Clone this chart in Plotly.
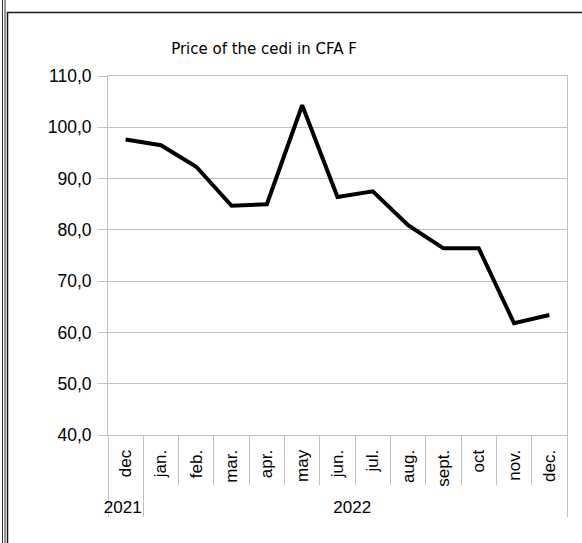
import plotly.graph_objects as go

years = ["2021"] + ["2022"] * 12
months = ["dec", "jan.", "feb.", "mar.", "apr.", "may", "jun.", "jul.",
          "aug.", "sept.", "oct", "nov.", "dec."]
price = [97.6, 96.5, 92.3, 84.7, 85.0, 104.3, 86.4, 87.5, 80.9, 76.4, 76.4, 61.8, 63.4]
y_ticks = [40, 50, 60, 70, 80, 90, 100, 110]

W, H = 582, 543
L, R, T, B = 108, 15, 76, 108
pw, ph = W - L - R, H - T - B

def px_x(p):
    return (p - L) / pw

def px_y(p):
    return (H - B - p) / ph

GRID = "#c0c0c0"

fig = go.Figure()
fig.add_trace(go.Scatter(
    x=[years, months], y=price, mode="lines",
    line=dict(color="black", width=4), showlegend=False,
    hoverinfo="y",
))

fig.update_layout(
    width=W, height=H, autosize=False,
    margin=dict(l=L, r=R, t=T, b=B, autoexpand=False),
    paper_bgcolor="white", plot_bgcolor="white",
    separators=",.",
    font=dict(family="Liberation Sans, Arial, sans-serif", size=17, color="black"),
    title=dict(
        text="Price of the cedi in CFA F",
        x=264 / W, xref="container", xanchor="center",
        y=1 - 49 / H, yref="container", yanchor="middle",
        font=dict(family="DejaVu Sans, sans-serif", size=15, color="black"),
    ),
    xaxis=dict(
        type="multicategory",
        range=[-0.5, len(months) - 0.5],
        showgrid=False, zeroline=False, automargin=False,
        showline=True, linecolor=GRID, linewidth=1, mirror=True,
        ticks="outside", tickson="boundaries", ticklen=49, tickcolor=GRID, tickwidth=1,
        tickangle=-90,
        ticklabelstandoff=7,
        showdividers=True, dividercolor=GRID, dividerwidth=1,
        tickfont=dict(size=17),
    ),
    yaxis=dict(
        range=[40, 110], tickvals=y_ticks, tickformat=".1f",
        showgrid=True, gridcolor=GRID, gridwidth=1,
        zeroline=False, automargin=False,
        showline=True, linecolor=GRID, linewidth=1, mirror=True,
        ticks="outside", ticklen=9, tickcolor=GRID, tickwidth=1,
        ticklabelstandoff=3,
        tickfont=dict(size=17.5),
    ),
    shapes=[
        dict(type="rect", xref="paper", yref="paper",
             x0=px_x(7.5), x1=px_x(W + 10), y0=px_y(H + 10), y1=px_y(12.5),
             line=dict(color="#1a1a1a", width=1.5), layer="above"),
        dict(type="line", xref="paper", yref="paper",
             x0=px_x(2.5), x1=px_x(2.5), y0=px_y(H + 10), y1=px_y(0),
             line=dict(color="#333333", width=1), layer="above"),
        dict(type="line", xref="paper", yref="paper",
             x0=px_x(5), x1=px_x(5), y0=px_y(H + 10), y1=px_y(0),
             line=dict(color="#333333", width=1), layer="above"),
    ],
)

fig.write_html("out.html",
               config={"displayModeBar": False},
               post_script="document.body.style.margin='0';document.body.style.overflow='hidden';")
